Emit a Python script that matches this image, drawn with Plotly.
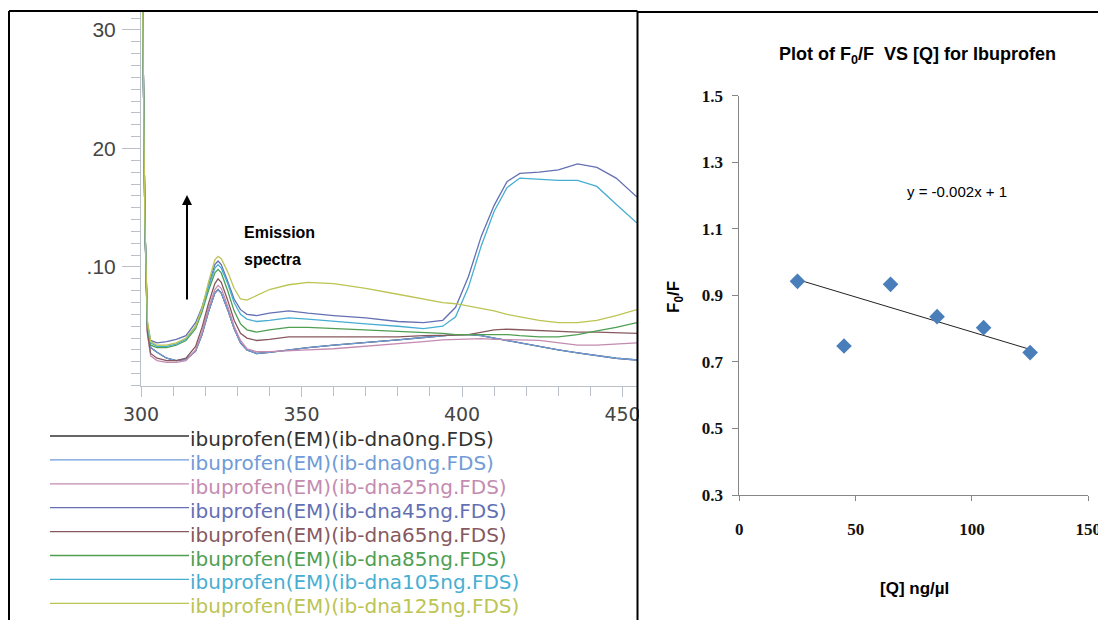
import plotly.graph_objects as go

W, H = 1098, 620

# ---------------- data: emission spectra (left panel) ----------------
wavelengths = [300, 300.6, 301.2, 302, 303, 305, 308, 311, 314, 317,
               319, 321, 323, 324, 325, 327, 329, 331, 333, 336,
               340, 346, 352, 360, 370, 380, 388, 394, 398, 402,
               406, 410, 414, 418, 424, 430, 436, 442, 448, 454.5]

dna0 = [60, 30, 14, 4.6, 3.2, 2.8, 2.3, 2.1, 2.2, 2.9,
        4.3, 6.2, 7.8, 8.1, 7.8, 6.4, 4.8, 3.6, 3.0, 2.7,
        2.8, 3.0, 3.2, 3.4, 3.6, 3.85, 4.05, 4.2, 4.3, 4.3,
        4.2, 4.0, 3.8, 3.55, 3.3, 3.0, 2.75, 2.5, 2.3, 2.15]
dna25 = [60, 30, 14, 4.3, 2.5, 2.1, 1.95, 1.95, 2.1, 3.0,
         4.5, 6.5, 8.1, 8.45, 8.2, 6.7, 5.0, 3.8, 3.1, 2.85,
         2.85, 2.95, 3.0, 3.1, 3.3, 3.5, 3.7, 3.85, 3.9, 3.95,
         3.95, 3.9, 3.9, 3.85, 3.8, 3.6, 3.4, 3.4, 3.5, 3.6]
dna45 = [60, 30, 14, 5.2, 3.8, 3.6, 3.7, 3.9, 4.2, 5.3,
         6.6, 8.5, 10.2, 10.5, 10.2, 8.8, 7.3, 6.4, 6.0, 5.9,
         6.1, 6.3, 6.1, 5.9, 5.7, 5.4, 5.3, 5.5, 6.6, 9.2,
         12.6, 15.2, 17.2, 17.9, 18.0, 18.2, 18.7, 18.4, 17.5, 15.9]
dna65 = [60, 30, 14, 4.5, 2.7, 2.3, 2.1, 2.1, 2.3, 3.3,
         4.9, 6.9, 8.6, 9.0, 8.7, 7.2, 5.5, 4.4, 4.0, 3.8,
         3.9, 4.1, 4.1, 4.1, 4.1, 4.1, 4.2, 4.2, 4.25, 4.3,
         4.5, 4.7, 4.75, 4.7, 4.65, 4.55, 4.5, 4.5, 4.45, 4.4]
dna85 = [60, 30, 14, 5.0, 3.4, 3.2, 3.2, 3.4, 3.8, 4.8,
         6.2, 8.0, 9.5, 9.8, 9.5, 8.0, 6.3, 5.2, 4.7, 4.5,
         4.7, 4.9, 4.9, 4.8, 4.7, 4.6, 4.5, 4.4, 4.3, 4.3,
         4.3, 4.3, 4.3, 4.2, 4.1, 4.1, 4.3, 4.6, 4.9, 5.3]
dna105 = [60, 30, 14, 5.2, 3.6, 3.3, 3.3, 3.5, 3.9, 5.0,
          6.4, 8.3, 9.9, 10.2, 9.9, 8.6, 7.0, 6.0, 5.6, 5.4,
          5.5, 5.7, 5.6, 5.4, 5.2, 5.0, 4.8, 5.0, 5.8, 8.3,
          11.8, 14.7, 16.7, 17.5, 17.4, 17.3, 17.3, 16.8, 15.3, 13.7]
dna125 = [60, 30, 14, 5.5, 3.7, 3.4, 3.4, 3.6, 4.0, 5.0,
          6.5, 8.7, 10.6, 10.9, 10.7, 9.6, 8.2, 7.3, 7.2, 7.6,
          8.1, 8.5, 8.7, 8.6, 8.2, 7.7, 7.3, 7.0, 6.9, 6.7,
          6.5, 6.3, 6.0, 5.8, 5.5, 5.3, 5.3, 5.5, 5.9, 6.4]

series_labels = ["ibuprofen(EM)(ib-dna0ng.FDS)", "ibuprofen(EM)(ib-dna0ng.FDS)",
                 "ibuprofen(EM)(ib-dna25ng.FDS)", "ibuprofen(EM)(ib-dna45ng.FDS)",
                 "ibuprofen(EM)(ib-dna65ng.FDS)", "ibuprofen(EM)(ib-dna85ng.FDS)",
                 "ibuprofen(EM)(ib-dna105ng.FDS)", "ibuprofen(EM)(ib-dna125ng.FDS)"]
series_values = [dna0, dna0, dna25, dna45, dna65, dna85, dna105, dna125]
series_colors = ["#333333", "#6f9bd8", "#c48bb0", "#6470b4",
                 "#87595f", "#4f9f52", "#47aed2", "#bcc453"]

left_x_ticks = [300, 350, 400, 450]
left_y_ticks = [10, 20, 30]
left_y_ticktext = [".10", "20", "30"]

# ---------------- data: Stern-Volmer plot (right panel) ----------------
q_conc = [25, 45, 65, 85, 105, 125]
f0_over_f = [0.942, 0.748, 0.933, 0.836, 0.803, 0.728]
trend_slope = -0.0021
trend_intercept = 1.0
right_x_ticks = [0, 50, 100, 150]
right_y_ticks = [0.3, 0.5, 0.7, 0.9, 1.1, 1.3, 1.5]


def px(x):
    return x / W


def py(y):
    return 1 - y / H


fig = go.Figure()

# spectra
for vals, col, lab in zip(series_values, series_colors, series_labels):
    fig.add_trace(go.Scatter(x=wavelengths, y=vals, mode="lines", name=lab,
                             line=dict(color=col, width=1.3),
                             xaxis="x", yaxis="y", hoverinfo="skip"))

# trendline
tx = [min(q_conc), max(q_conc)]
ty = [trend_slope * v + trend_intercept for v in tx]
fig.add_trace(go.Scatter(x=tx, y=ty, mode="lines", line=dict(color="#222222", width=1),
                         xaxis="x2", yaxis="y2", hoverinfo="skip"))
# points
fig.add_trace(go.Scatter(x=q_conc, y=f0_over_f, mode="markers",
                         marker=dict(symbol="diamond", size=12, color="#4a7ebb"),
                         xaxis="x2", yaxis="y2"))

AX = "#b9c0c8"
SANS = "Liberation Sans, Arial, sans-serif"
WIDE = "DejaVu Sans, Liberation Sans, sans-serif"
SERIF = "Liberation Serif, Times New Roman, serif"

fig.update_layout(
    width=W, height=H, margin=dict(l=0, r=0, t=0, b=0, autoexpand=False),
    paper_bgcolor="white", plot_bgcolor="white", showlegend=False,
    xaxis=dict(domain=[px(141), px(637)], range=[300, 454.5], anchor="y", automargin=False,
               showline=True, linecolor=AX, linewidth=1, ticks="outside",
               ticklen=10, tickcolor=AX, tickvals=left_x_ticks,
               tickfont=dict(family=WIDE, size=19, color="#454545"),
               showgrid=False, zeroline=False, ticklabelstandoff=2, ticklabeloverflow="allow",
               minor=dict(dtick=10, ticklen=9, tickcolor=AX, ticks="outside", showgrid=False)),
    yaxis=dict(domain=[py(385.5), py(11)], range=[0, 31.6], anchor="x", automargin=False,
               showline=True, linecolor=AX, linewidth=1, ticks="outside",
               ticklen=18, tickcolor=AX, tickvals=left_y_ticks, ticktext=left_y_ticktext,
               tickfont=dict(family=SANS, size=21, color="#454545"),
               showgrid=False, zeroline=False, ticklabelstandoff=2, ticklabeloverflow="allow",
               minor=dict(dtick=1, ticklen=9, tickcolor=AX, ticks="outside", showgrid=False)),
    xaxis2=dict(domain=[px(739.3), px(1088.3)], range=[0, 150], anchor="y2", automargin=False,
                showline=True, linecolor="#878787", linewidth=1, ticks="outside",
                ticklen=5, tickcolor="#878787", tickvals=right_x_ticks,
                tickfont=dict(family=SERIF, size=17, color="#111111", weight="bold"),
                showgrid=False, zeroline=False, ticklabelstandoff=14, ticklabeloverflow="allow"),
    yaxis2=dict(domain=[py(495), py(95.7)], range=[0.3, 1.5], anchor="x2", automargin=False,
                showline=True, linecolor="#878787", linewidth=1, ticks="outside",
                ticklen=6, tickcolor="#878787", tickvals=right_y_ticks, tickformat=".1f",
                tickfont=dict(family=SERIF, size=17, color="#111111", weight="bold"),
                showgrid=False, zeroline=False, ticklabelstandoff=6, ticklabeloverflow="allow"),
)

shapes = []
# hide overflow of the "450" label into the right panel
shapes.append(dict(type="rect", xref="paper", yref="paper", x0=px(639), x1=px(700),
                   y0=py(440), y1=py(392), fillcolor="white", line=dict(width=0), layer="above"))
# panel borders
border = dict(color="black", width=2)
shapes.append(dict(type="line", xref="paper", yref="paper", x0=px(9), x1=px(637.5), y0=py(11), y1=py(11), line=border))
shapes.append(dict(type="line", xref="paper", yref="paper", x0=px(9), x1=px(9), y0=py(11), y1=py(625), line=border))
shapes.append(dict(type="line", xref="paper", yref="paper", x0=px(637.5), x1=px(637.5), y0=py(11), y1=py(625), line=border))
shapes.append(dict(type="line", xref="paper", yref="paper", x0=px(637.5), x1=px(1100), y0=py(12), y1=py(12), line=border))

annotations = []
# legend (drawn below the spectrum plot)
for i, (lab, col) in enumerate(zip(series_labels, series_colors)):
    ry = 436 + 23.9 * i
    shapes.append(dict(type="line", xref="paper", yref="paper", x0=px(50), x1=px(189),
                       y0=py(ry), y1=py(ry), line=dict(color=col, width=1.3)))
    annotations.append(dict(text=lab, xref="paper", yref="paper", x=px(188), y=py(ry + 3),
                            xanchor="left", yanchor="middle", showarrow=False,
                            font=dict(family=WIDE, size=20, color=col)))

# Emission spectra label + arrow
annotations.append(dict(text="<b>Emission</b>", xref="paper", yref="paper", x=px(242), y=py(232),
                        xanchor="left", yanchor="middle", showarrow=False,
                        font=dict(family=SANS, size=16, color="black")))
annotations.append(dict(text="<b>spectra</b>", xref="paper", yref="paper", x=px(242), y=py(259),
                        xanchor="left", yanchor="middle", showarrow=False,
                        font=dict(family=SANS, size=16, color="black")))
annotations.append(dict(text="", xref="paper", yref="paper", x=px(187), y=py(195),
                        ax=0, ay=106, showarrow=True, arrowhead=2, arrowsize=1,
                        arrowwidth=2, arrowcolor="black"))

# right panel texts
annotations.append(dict(text="<b>Plot of F<sub>0</sub>/F&nbsp; VS [Q] for Ibuprofen</b>",
                        xref="paper", yref="paper", x=px(917), y=py(55),
                        xanchor="center", yanchor="middle", showarrow=False,
                        font=dict(family=SANS, size=18, color="black")))
annotations.append(dict(text="y = -0.002x + 1", xref="paper", yref="paper", x=px(957), y=py(191),
                        xanchor="center", yanchor="middle", showarrow=False,
                        font=dict(family=SANS, size=15, color="black")))
annotations.append(dict(text="<b>[Q] ng/µl</b>", xref="paper", yref="paper", x=px(914), y=py(588),
                        xanchor="center", yanchor="middle", showarrow=False,
                        font=dict(family=SANS, size=17, color="black")))
annotations.append(dict(text="<b>F<sub>0</sub>/F</b>", xref="paper", yref="paper", x=px(675), y=py(297),
                        xanchor="center", yanchor="middle", showarrow=False, textangle=-90,
                        font=dict(family=SANS, size=17, color="black")))

fig.update_layout(shapes=shapes, annotations=annotations)
fig.write_html("out.html", config={"displayModeBar": False},
               post_script="document.body.style.margin='0';document.body.style.overflow='hidden';")
